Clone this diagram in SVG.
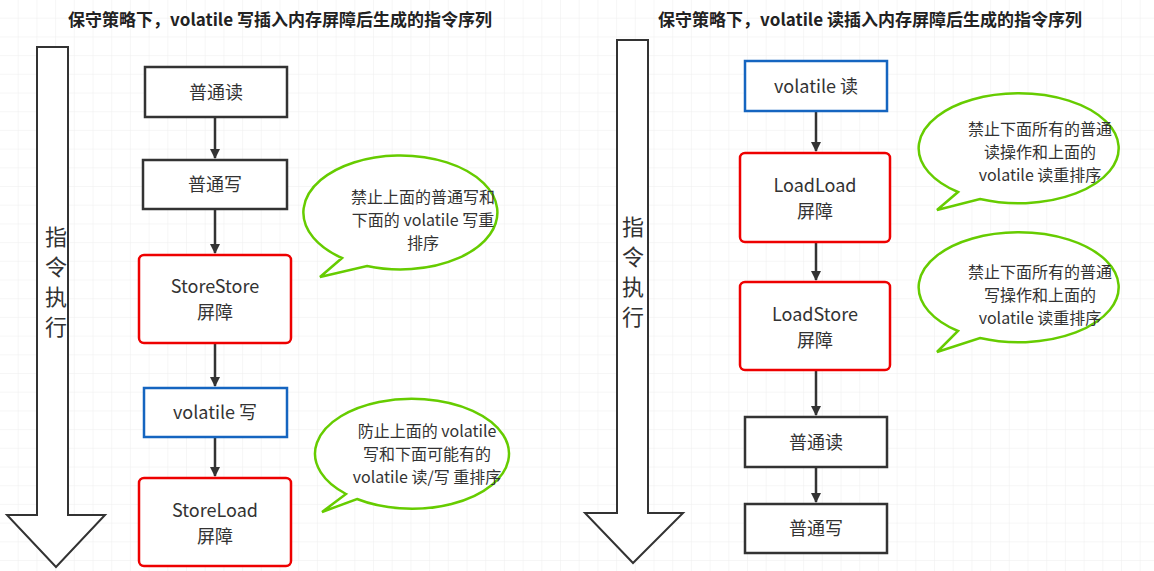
<svg xmlns="http://www.w3.org/2000/svg" width="1154" height="571" viewBox="0 0 1154 571">
<style>
text{font-family:"Noto Sans CJK SC","Noto Sans",sans-serif;fill:#333;}
.t{font-size:17px;font-weight:bold;fill:#222;text-anchor:middle}
.n{font-size:18px;text-anchor:middle}
.b{font-size:16px;text-anchor:middle}
.v{font-size:22px;text-anchor:middle}
.bk{fill:#fff;stroke:#333;stroke-width:2.5}
.rd{fill:#fff;stroke:#e00;stroke-width:2.5}
.bl{fill:#fff;stroke:#1565c0;stroke-width:2.5}
.bub{fill:#fff;stroke:#66cc00;stroke-width:2.5}
.big{fill:#fff;stroke:#333;stroke-width:2}
.c{stroke:#333;stroke-width:2.5;fill:none;marker-end:url(#a)}
</style>
<defs>
<pattern id="g" width="18.7" height="18.7" patternUnits="userSpaceOnUse"><path d="M18.7 0V18.7H0" fill="none" stroke="#eee" stroke-width="1"/></pattern>
<marker id="a" viewBox="0 0 10 10" refX="9" refY="5" markerWidth="4" markerHeight="4" orient="auto"><path d="M0 0L10 5L0 10z" fill="#333"/></marker>
</defs>
<rect width="1154" height="571" fill="#fff"/>
<rect width="1154" height="571" fill="url(#g)"/>
<text class="t" x="280" y="26">保守策略下，volatile 写插入内存屏障后生成的指令序列</text>
<text class="t" x="870" y="26">保守策略下，volatile 读插入内存屏障后生成的指令序列</text>
<g id="arrowL"><path class="big" d="M37 47H68V515H105L56 567L7 515H37Z"/>
<text class="v" x="56" y="245">指</text><text class="v" x="56" y="275">令</text><text class="v" x="56" y="305">执</text><text class="v" x="56" y="335">行</text></g>
<g id="arrowR"><path class="big" d="M617 40H648V513H683L633 563L585 513H617Z"/>
<text class="v" x="633" y="235">指</text><text class="v" x="633" y="265">令</text><text class="v" x="633" y="295">执</text><text class="v" x="633" y="325">行</text></g>
<g id="connectors">
<path class="c" d="M215 117V158"/><path class="c" d="M215 209V253"/><path class="c" d="M215 343V386"/><path class="c" d="M215 437V476"/>
<path class="c" d="M816 111V151"/><path class="c" d="M816 242V280"/><path class="c" d="M816 370V415"/><path class="c" d="M816 467V502"/>
</g>
<g id="l1"><rect class="bk" x="145" y="67" width="142" height="50"/><text class="n" x="216" y="99">普通读</text></g>
<g id="l2"><rect class="bk" x="143" y="160" width="144" height="49"/><text class="n" x="215" y="191">普通写</text></g>
<g id="l3"><rect class="rd" x="139" y="255" width="152" height="88" rx="5"/><text class="n" x="215" y="293">StoreStore</text><text class="n" x="215" y="319">屏障</text></g>
<g id="l4"><rect class="bl" x="144" y="388" width="143" height="49"/><text class="n" x="215" y="419">volatile 写</text></g>
<g id="l5"><rect class="rd" x="139" y="478" width="152" height="88" rx="5"/><text class="n" x="215" y="517">StoreLoad</text><text class="n" x="215" y="543">屏障</text></g>
<g id="r1"><rect class="bl" x="745" y="61" width="142" height="50"/><text class="n" x="816" y="93">volatile 读</text></g>
<g id="r2"><rect class="rd" x="740" y="153" width="150" height="89" rx="5"/><text class="n" x="815" y="192">LoadLoad</text><text class="n" x="815" y="218">屏障</text></g>
<g id="r3"><rect class="rd" x="740" y="282" width="150" height="88" rx="5"/><text class="n" x="815" y="321">LoadStore</text><text class="n" x="815" y="347">屏障</text></g>
<g id="r4"><rect class="bk" x="745" y="417" width="142" height="50"/><text class="n" x="816" y="449">普通读</text></g>
<g id="r5"><rect class="bk" x="745" y="504" width="142" height="49"/><text class="n" x="816" y="535">普通写</text></g>
<g id="bub1"><path class="bub" d="M342 258A97 57 0 1 1 367 266L320 277Z"/>
<text class="b" x="423" y="203">禁止上面的普通写和</text><text class="b" x="423" y="226">下面的 volatile 写重</text><text class="b" x="423" y="249">排序</text></g>
<g id="bub2"><path class="bub" d="M346 494A97 55 0 1 1 357 499L322 512Z"/>
<text class="b" x="427" y="437">防止上面的 volatile</text><text class="b" x="427" y="460">写和下面可能有的</text><text class="b" x="427" y="483">volatile 读/写 重排序</text></g>
<g id="bub3"><path class="bub" d="M958 192A100 55 0 1 1 980 199L937 210Z"/>
<text class="b" x="1040" y="135">禁止下面所有的普通</text><text class="b" x="1040" y="158">读操作和上面的</text><text class="b" x="1040" y="181">volatile 读重排序</text></g>
<g id="bub4"><path class="bub" d="M958 331A100 55 0 1 1 980 338L937 352Z"/>
<text class="b" x="1040" y="278">禁止下面所有的普通</text><text class="b" x="1040" y="301">写操作和上面的</text><text class="b" x="1040" y="324">volatile 读重排序</text></g>
</svg>
